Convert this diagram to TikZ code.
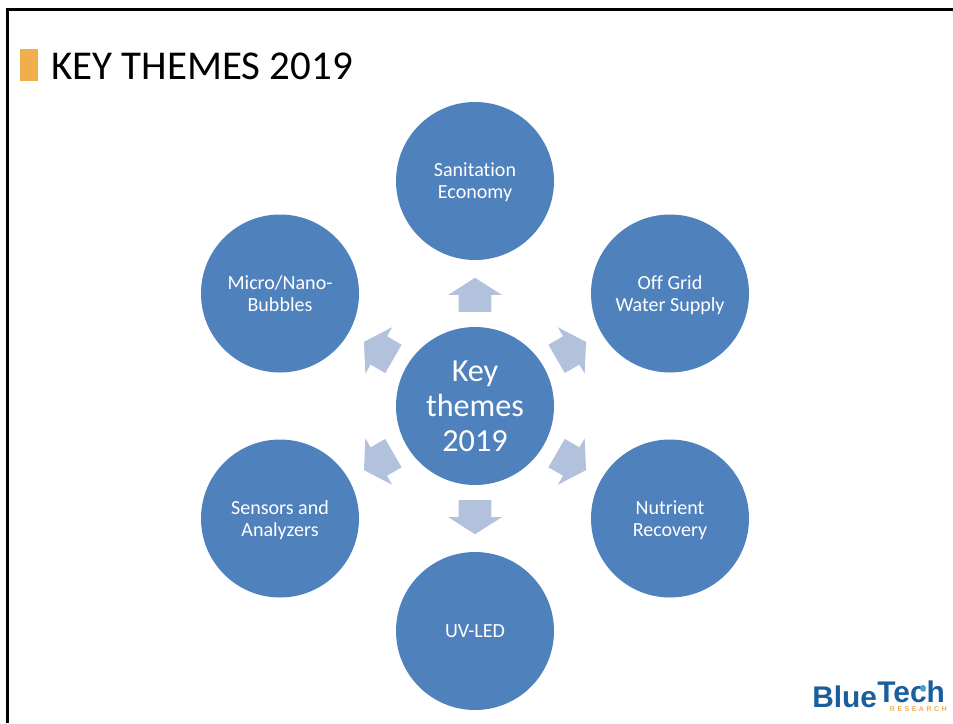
\documentclass[tikz,border=0pt]{standalone}
\usepackage{fontspec}
\setmainfont{Carlito}[Ligatures=NoCommon]
\newfontfamily\logofont{Liberation Sans}
\usetikzlibrary{shapes.arrows}
\usetikzlibrary{calc}
\definecolor{bubbleblue}{HTML}{4F81BD}
\definecolor{spokeblue}{HTML}{B2C2DD}
\definecolor{barorange}{HTML}{F0AE4C}
\definecolor{logoblue}{HTML}{1B5E9E}
\definecolor{logodrop}{HTML}{3FA3D8}
\newcommand{\twolines}[2]{\rule{0pt}{11.2pt}#1\\\rule[-3.6pt]{0pt}{3.6pt}#2}
\tikzset{
	bubble/.style={circle, fill=bubbleblue, text=white, minimum size=3.16cm, inner sep=0pt, align=center, font=\fontsize{11.4}{12.5}\selectfont},
	spoke/.style={single arrow, fill=spokeblue, minimum height=0.68cm, single arrow head extend=0.21cm, single arrow tip angle=115, single arrow head indent=0cm, inner xsep=0pt, inner ysep=0.32cm, outer sep=0pt},
	logotext/.style={inner sep=0pt, text=logoblue, font=\logofont\fontsize{17}{18}\bfseries\selectfont}
}

\begin{document}
\begin{tikzpicture}
	\useasboundingbox (0,0) rectangle (19.06,-14.46);
	
	\draw[line width=0.05cm] (0.15,-14.46) -- (0.15,-0.19) -- (19.06,-0.19);
	
	\fill[barorange] (0.4,-0.98) rectangle (0.75,-1.62);
	\node[anchor=base west, inner sep=0pt, font=\fontsize{23.3}{26}\selectfont] (title) at (1.02,-1.58) {KEY THEMES 2019};
	
	\node[bubble, font=\fontsize{18.3}{20}\selectfont] (hub) at (9.5,-8.12) {Key\\themes\\2019};
	
	\node[bubble] (sanitation) at (9.5,-3.62) {\twolines{Sanitation}{Economy}};
	\node[bubble] (offgrid) at (13.4,-5.87) {\twolines{Off Grid}{Water Supply}};
	\node[bubble] (nutrient) at (13.4,-10.37) {\twolines{Nutrient}{Recovery}};
	\node[bubble] (uvled) at (9.5,-12.62) {UV-LED};
	\node[bubble] (sensors) at (5.6,-10.37) {\twolines{Sensors and}{Analyzers}};
	\node[bubble] (bubbles) at (5.6,-5.87) {\twolines{Micro/Nano-}{Bubbles}};
	
	\foreach \a/\n in {90/sanitation, 30/offgrid, -30/nutrient, -90/uvled, -150/sensors, 150/bubbles}
		\node[spoke, rotate=\a] (spoke\n) at ($(hub)+(\a:2.12)$) {};
	
	% logo
	\node[logotext, anchor=base west] (logoblue) at (16.24,-14.14) {Blue};
	\node[logotext, anchor=base west] (logotech) at (17.54,-14.04) {Tech};
	\node[anchor=base east, inner sep=0pt, text=barorange, font=\logofont\fontsize{4}{5}\bfseries\selectfont] (logoresearch) at (18.94,-14.22) {R\hspace{1.4pt}E\hspace{1.4pt}S\hspace{1.4pt}E\hspace{1.4pt}A\hspace{1.4pt}R\hspace{1.4pt}C\hspace{1.4pt}H};
	\fill[logodrop] (18.46,-13.76) circle (0.06);
\end{tikzpicture}
\end{document}
